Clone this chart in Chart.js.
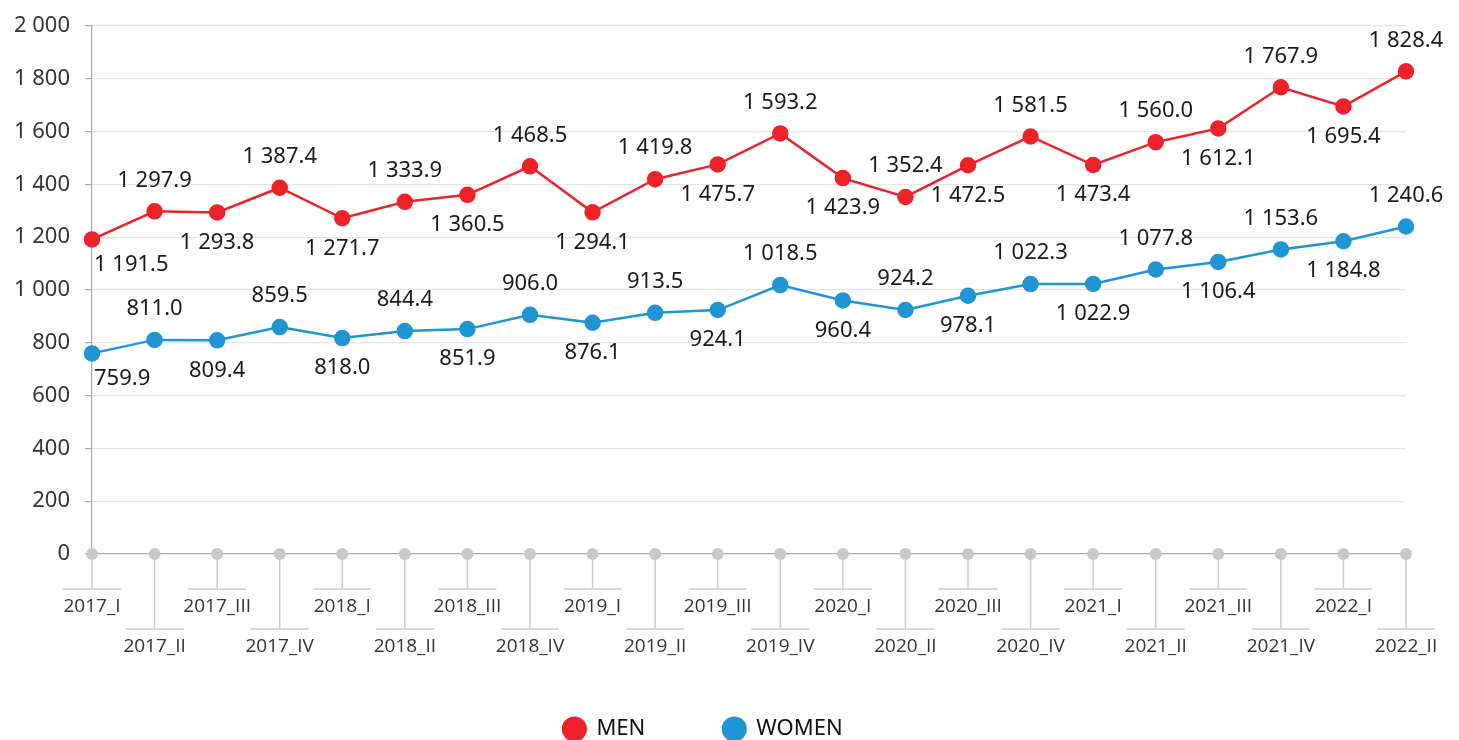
<!DOCTYPE html>
<html>
<head>
<meta charset="utf-8">
<script src="https://cdn.jsdelivr.net/npm/chart.js@4/dist/chart.umd.min.js"></script>
<style>
  body { margin: 0; background: #fff; }
  #wrap { width: 1459px; height: 740px; position: relative; }
</style>
</head>
<body>
<div id="wrap"><canvas id="myChart"></canvas></div>
<script>
var quarters = ['2017_I', '2017_II', '2017_III', '2017_IV', '2018_I', '2018_II', '2018_III', '2018_IV',
    '2019_I', '2019_II', '2019_III', '2019_IV', '2020_I', '2020_II', '2020_III', '2020_IV',
    '2021_I', '2021_II', '2021_III', '2021_IV', '2022_I', '2022_II'];
var men = [1191.5, 1297.9, 1293.8, 1387.4, 1271.7, 1333.9, 1360.5, 1468.5, 1294.1, 1419.8, 1475.7,
    1593.2, 1423.9, 1352.4, 1472.5, 1581.5, 1473.4, 1560.0, 1612.1, 1767.9, 1695.4, 1828.4];
var women = [759.9, 811.0, 809.4, 859.5, 818.0, 844.4, 851.9, 906.0, 876.1, 913.5, 924.1,
    1018.5, 960.4, 924.2, 978.1, 1022.3, 1022.9, 1077.8, 1106.4, 1153.6, 1184.8, 1240.6];
var seriesNames = ['MEN', 'WOMEN'];

var red = '#ee2229';
var blue = '#1f95d3';

// 1234.5 -> "1 234.5"
function fmt(v, dec) {
    var s = v.toFixed(dec);
    var parts = s.split('.');
    parts[0] = parts[0].replace(/\B(?=(\d{3})+(?!\d))/g, ' ');
    return parts.join('.');
}

// value labels, alternating below / above the points
var valueLabels = {
    id: 'valueLabels',
    afterDatasetsDraw: function (chart) {
        var ctx = chart.ctx;
        ctx.save();
        ctx.font = '22px "Noto Sans"';
        ctx.fillStyle = '#1a1a1a';
        ctx.textBaseline = 'middle';
        chart.data.datasets.forEach(function (ds, di) {
            chart.getDatasetMeta(di).data.forEach(function (pt, i) {
                var above = i % 2 === 1;
                var y = above ? pt.y - 31 : pt.y + (i === 0 ? 25 : 30);
                var x = pt.x;
                ctx.textAlign = 'center';
                if (i === 0) { ctx.textAlign = 'left'; x = pt.x + 2; }
                ctx.fillText(fmt(ds.data[i], 1), x, y);
            });
        });
        ctx.restore();
    }
};

// staggered category axis with stems and dots
var stemAxis = {
    id: 'stemAxis',
    afterDatasetsDraw: function (chart) {
        var ctx = chart.ctx;
        var xs = chart.scales.x;
        var zeroY = chart.scales.y.getPixelForValue(0);
        ctx.save();
        ctx.strokeStyle = '#cccccc';
        ctx.lineWidth = 1.5;
        ctx.font = '19px "Open Sans"';
        ctx.textAlign = 'center';
        ctx.textBaseline = 'middle';
        chart.data.labels.forEach(function (lab, i) {
            var x = xs.getPixelForValue(i);
            var endY = zeroY + (i % 2 === 0 ? 35 : 75);
            ctx.beginPath();
            ctx.moveTo(x, zeroY);
            ctx.lineTo(x, endY);
            ctx.moveTo(x - 29, endY);
            ctx.lineTo(x + 29, endY);
            ctx.stroke();
            ctx.fillStyle = '#c8c8c8';
            ctx.beginPath();
            ctx.arc(x, zeroY, 6, 0, Math.PI * 2);
            ctx.fill();
            ctx.fillStyle = '#333333';
            ctx.fillText(lab, x, endY + 18);
        });
        ctx.restore();
    }
};

var ctx = document.getElementById('myChart').getContext('2d');
var myChart = new Chart(ctx, {
    type: 'line',
    data: {
        labels: quarters,
        datasets: [
            {
                label: seriesNames[0],
                data: men,
                borderColor: red,
                backgroundColor: red,
                borderWidth: 2.5,
                pointRadius: 7,
                pointHoverRadius: 7,
                pointStyle: 'circle',
                clip: false,
                tension: 0
            },
            {
                label: seriesNames[1],
                data: women,
                borderColor: blue,
                backgroundColor: blue,
                borderWidth: 2.5,
                pointRadius: 7,
                pointHoverRadius: 7,
                pointStyle: 'circle',
                clip: false,
                tension: 0
            }
        ]
    },
    options: {
        maintainAspectRatio: false,
        responsive: true,
        animation: false,
        layout: { padding: { top: 24, right: 53, left: 0, bottom: -10 } },
        plugins: {
            tooltip: { enabled: false },
            legend: {
                position: 'bottom',
                labels: {
                    usePointStyle: true,
                    boxHeight: 16,
                    padding: 78,
                    color: '#111',
                    font: { family: '"Noto Sans"', size: 22 }
                }
            }
        },
        scales: {
            x: {
                grid: { display: false },
                border: { display: false },
                ticks: { display: false },
                afterFit: function (scale) { scale.height = 86; }
            },
            y: {
                min: 0,
                max: 2000,
                ticks: {
                    stepSize: 200,
                    padding: 15,
                    color: '#333',
                    font: { family: '"Noto Sans"', size: 22, lineHeight: 1 },
                    callback: function (v) { return fmt(v, 0); }
                },
                grid: {
                    color: function (c) { return c.tick && c.tick.value === 0 ? '#aaaaaa' : '#e5e5e5'; },
                    tickColor: '#aaaaaa',
                    tickLength: 7,
                    lineWidth: 1.2
                },
                border: { display: true, color: '#aaaaaa', width: 1.2 },
                afterFit: function (scale) { scale.width = 92; }
            }
        }
    },
    plugins: [valueLabels, stemAxis]
});
</script>
</body>
</html>
